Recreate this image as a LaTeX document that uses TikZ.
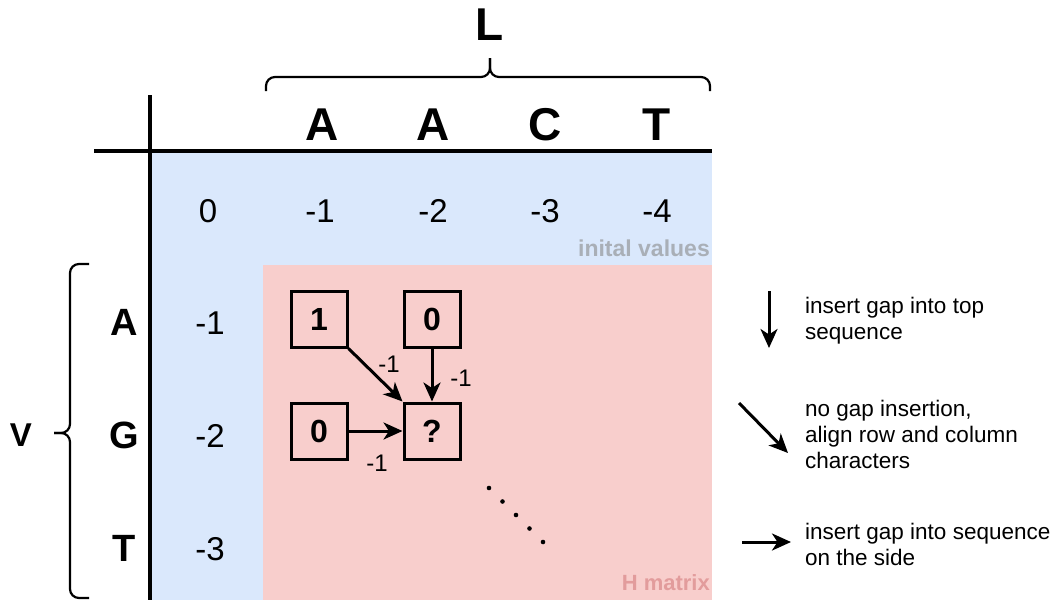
\documentclass[tikz,border=0pt]{standalone}
\usepackage{fontspec}
\setmainfont{Liberation Sans}
\usetikzlibrary{arrows.meta}
\definecolor{bluebg}{HTML}{DAE8FC}
\definecolor{pinkbg}{HTML}{F8CECC}
\definecolor{graytxt}{HTML}{A9AFB7}
\definecolor{pinktxt}{HTML}{E29C9C}
\tikzset{
  x=1pt, y=-1pt,
  hdr/.style={font=\fontsize{46}{50}\selectfont\bfseries, inner sep=0pt},
  rowl/.style={font=\fontsize{38}{42}\selectfont\bfseries, inner sep=0pt},
  val/.style={font=\fontsize{33}{38}\selectfont, inner sep=0pt},
  cellbox/.style={draw, line width=3pt, minimum width=56pt, minimum height=56pt, inner sep=0pt, font=\fontsize{32}{36}\selectfont\bfseries},
  lbl/.style={font=\fontsize{24}{26}\selectfont, inner sep=1pt},
  legend/.style={font=\fontsize{22.5}{26}\selectfont, align=left, anchor=west, inner sep=0pt},
  arr/.style={line width=3pt, -{Stealth[length=19pt, width=17pt, inset=5.5pt]}},
  gridl/.style={line width=3.5pt},
  brc/.style={line width=2.2pt, rounded corners=9pt},
}
\begin{document}
\begin{tikzpicture}
\useasboundingbox (0,0) rectangle (1058,603);
% backgrounds
\fill[bluebg] (150,152) rectangle (712,265);
\fill[bluebg] (150,265) rectangle (263,600);
\fill[pinkbg] (263,265) rectangle (712,600);
% grid lines
\draw[gridl] (150,95) -- (150,600);
\draw[gridl] (94,151) -- (712,151);
% top brace and L
\draw[brc] (266,91) -- (266,77) -- (490,77) -- (490,58);
\draw[brc] (710,91) -- (710,77) -- (490,77) -- (490,58);
\node[hdr] (L) at (490,25) {L};
% column headers
\node[hdr] (cA1) at (322,125) {A};
\node[hdr] (cA2) at (433,125) {A};
\node[hdr] (cC) at (545,125) {C};
\node[hdr] (cT) at (657,125) {T};
% first row values
\node[val] (v00) at (208,211) {0};
\node[val] (v01) at (320,211) {-1};
\node[val] (v02) at (433,211) {-2};
\node[val] (v03) at (545,211) {-3};
\node[val] (v04) at (657,211) {-4};
\node[font=\fontsize{23}{26}\selectfont\bfseries, text=graytxt, anchor=east, inner sep=0pt] (init) at (710,248) {inital values};
% row headers
\node[rowl] (rA) at (124,322) {A};
\node[rowl] (rG) at (124,435) {G};
\node[rowl] (rT) at (124,548) {T};
\node[val] (v10) at (210,323) {-1};
\node[val] (v20) at (210,436) {-2};
\node[val] (v30) at (210,549) {-3};
% left brace and V
\draw[brc] (89,264) -- (70,264) -- (70,433) -- (54,433);
\draw[brc] (89,598) -- (70,598) -- (70,433) -- (54,433);
\node[font=\fontsize{33}{36}\selectfont\bfseries, inner sep=0pt] (V) at (21,435) {V};
% cells
\node[cellbox] (b1) at (319,319) {1};
\node[cellbox] (b2) at (432,319) {0};
\node[cellbox] (b3) at (319,431) {0};
\node[cellbox] (bq) at (432,431) {?};
\draw[arr] (b1.south east) -- (bq.north west);
\draw[arr] (b2.south) -- (bq.north);
\draw[arr] (b3.east) -- (bq.west);
\node[lbl] (l1) at (389,364) {-1};
\node[lbl] (l2) at (461,378) {-1};
\node[lbl] (l3) at (377,463) {-1};
% dots
\foreach \i in {0,...,4} {
  \fill (489+13.5*\i,488+13.5*\i) circle (2.3pt);
}
\node[font=\fontsize{22}{25}\selectfont\bfseries, text=pinktxt, anchor=east, inner sep=0pt] (hm) at (710,583) {H matrix};
% legend
\coordinate (d1s) at (769,291);
\coordinate (d1e) at (769,348);
\draw[arr] (d1s) -- (d1e);
\node[legend] (t1) at (805,321) {insert gap into top\\sequence};
\coordinate (d2s) at (739,403);
\coordinate (d2e) at (788,453);
\draw[arr] (d2s) -- (d2e);
\node[legend] (t2) at (805,434) {no gap insertion,\\align row and column\\characters};
\coordinate (d3s) at (742,542);
\coordinate (d3e) at (791,542);
\draw[arr] (d3s) -- (d3e);
\node[legend] (t3) at (805,544) {insert gap into sequence\\on the side};
\end{tikzpicture}
\end{document}
